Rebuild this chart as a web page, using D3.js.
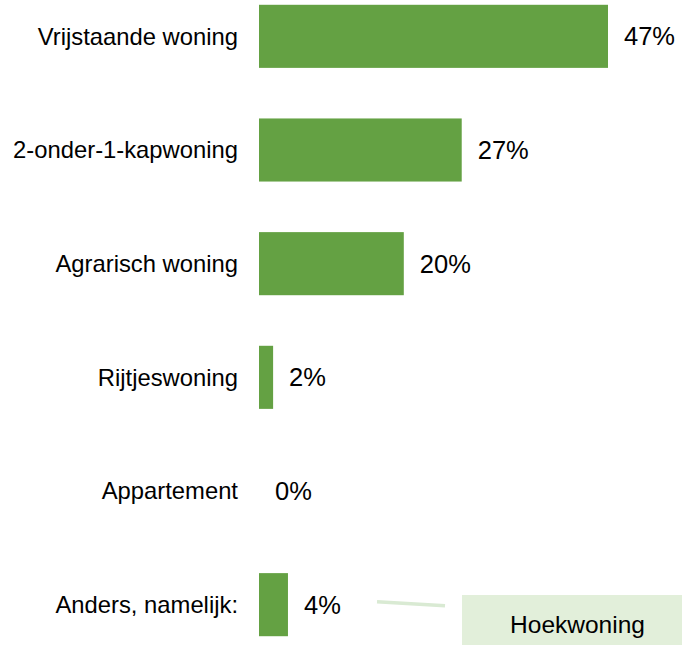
<!DOCTYPE html>
<html><head><meta charset="utf-8">
<script src="https://cdn.jsdelivr.net/npm/d3@7"></script>
<style>body{margin:0;background:#fff}svg{display:block}</style>
</head><body>
<script>
const categories = ["Vrijstaande woning","2-onder-1-kapwoning","Agrarisch woning","Rijtjeswoning","Appartement","Anders, namelijk:"];
const values = [47, 27.3, 19.5, 1.9, 0, 3.9];
const valueLabels = ["47%","27%","20%","2%","0%","4%"];
const calloutText = "Hoekwoning";

const W = 682, H = 645;
const svg = d3.select("body").append("svg").attr("width", W).attr("height", H);
const x = d3.scaleLinear().domain([0, 47]).range([259, 608]);
const y = d3.scaleBand().domain(categories).range([-20.5, 661.5]).paddingInner(0.445).paddingOuter(0.2225);
const font = "Liberation Sans, Arial, sans-serif";

svg.selectAll("rect.bar").data(values).join("rect").attr("class","bar")
  .attr("x", x(0)).attr("y", (d,i)=>y(categories[i]))
  .attr("width", d=>x(d)-x(0)).attr("height", y.bandwidth())
  .attr("fill", "#64a143");

svg.selectAll("text.cat").data(categories).join("text").attr("class","cat")
  .attr("x", 238).attr("y", d=>y(d)+y.bandwidth()/2).attr("dy","0.35em")
  .attr("text-anchor","end").attr("font-family",font).attr("font-size",23.8).attr("fill","#000")
  .text(d=>d);

svg.selectAll("text.val").data(values).join("text").attr("class","val")
  .attr("x", d=>x(d)+16).attr("y", (d,i)=>y(categories[i])+y.bandwidth()/2).attr("dy","0.35em")
  .attr("font-family",font).attr("font-size",25.5).attr("fill","#000")
  .text((d,i)=>valueLabels[i]);

// callout
const cy = y(categories[5]) + y.bandwidth()/2;
svg.append("line").attr("x1",377).attr("y1",cy-3).attr("x2",445).attr("y2",cy+1)
  .attr("stroke","#d9ead3").attr("stroke-width",3.5);
svg.append("rect").attr("x",462).attr("y",595).attr("width",220).attr("height",50).attr("fill","#e2efda");
svg.append("text").attr("x",577.5).attr("y",624).attr("dy","0.35em").attr("text-anchor","middle")
  .attr("font-family",font).attr("font-size",24.5).attr("fill","#000").text(calloutText);
</script>
</body></html>
